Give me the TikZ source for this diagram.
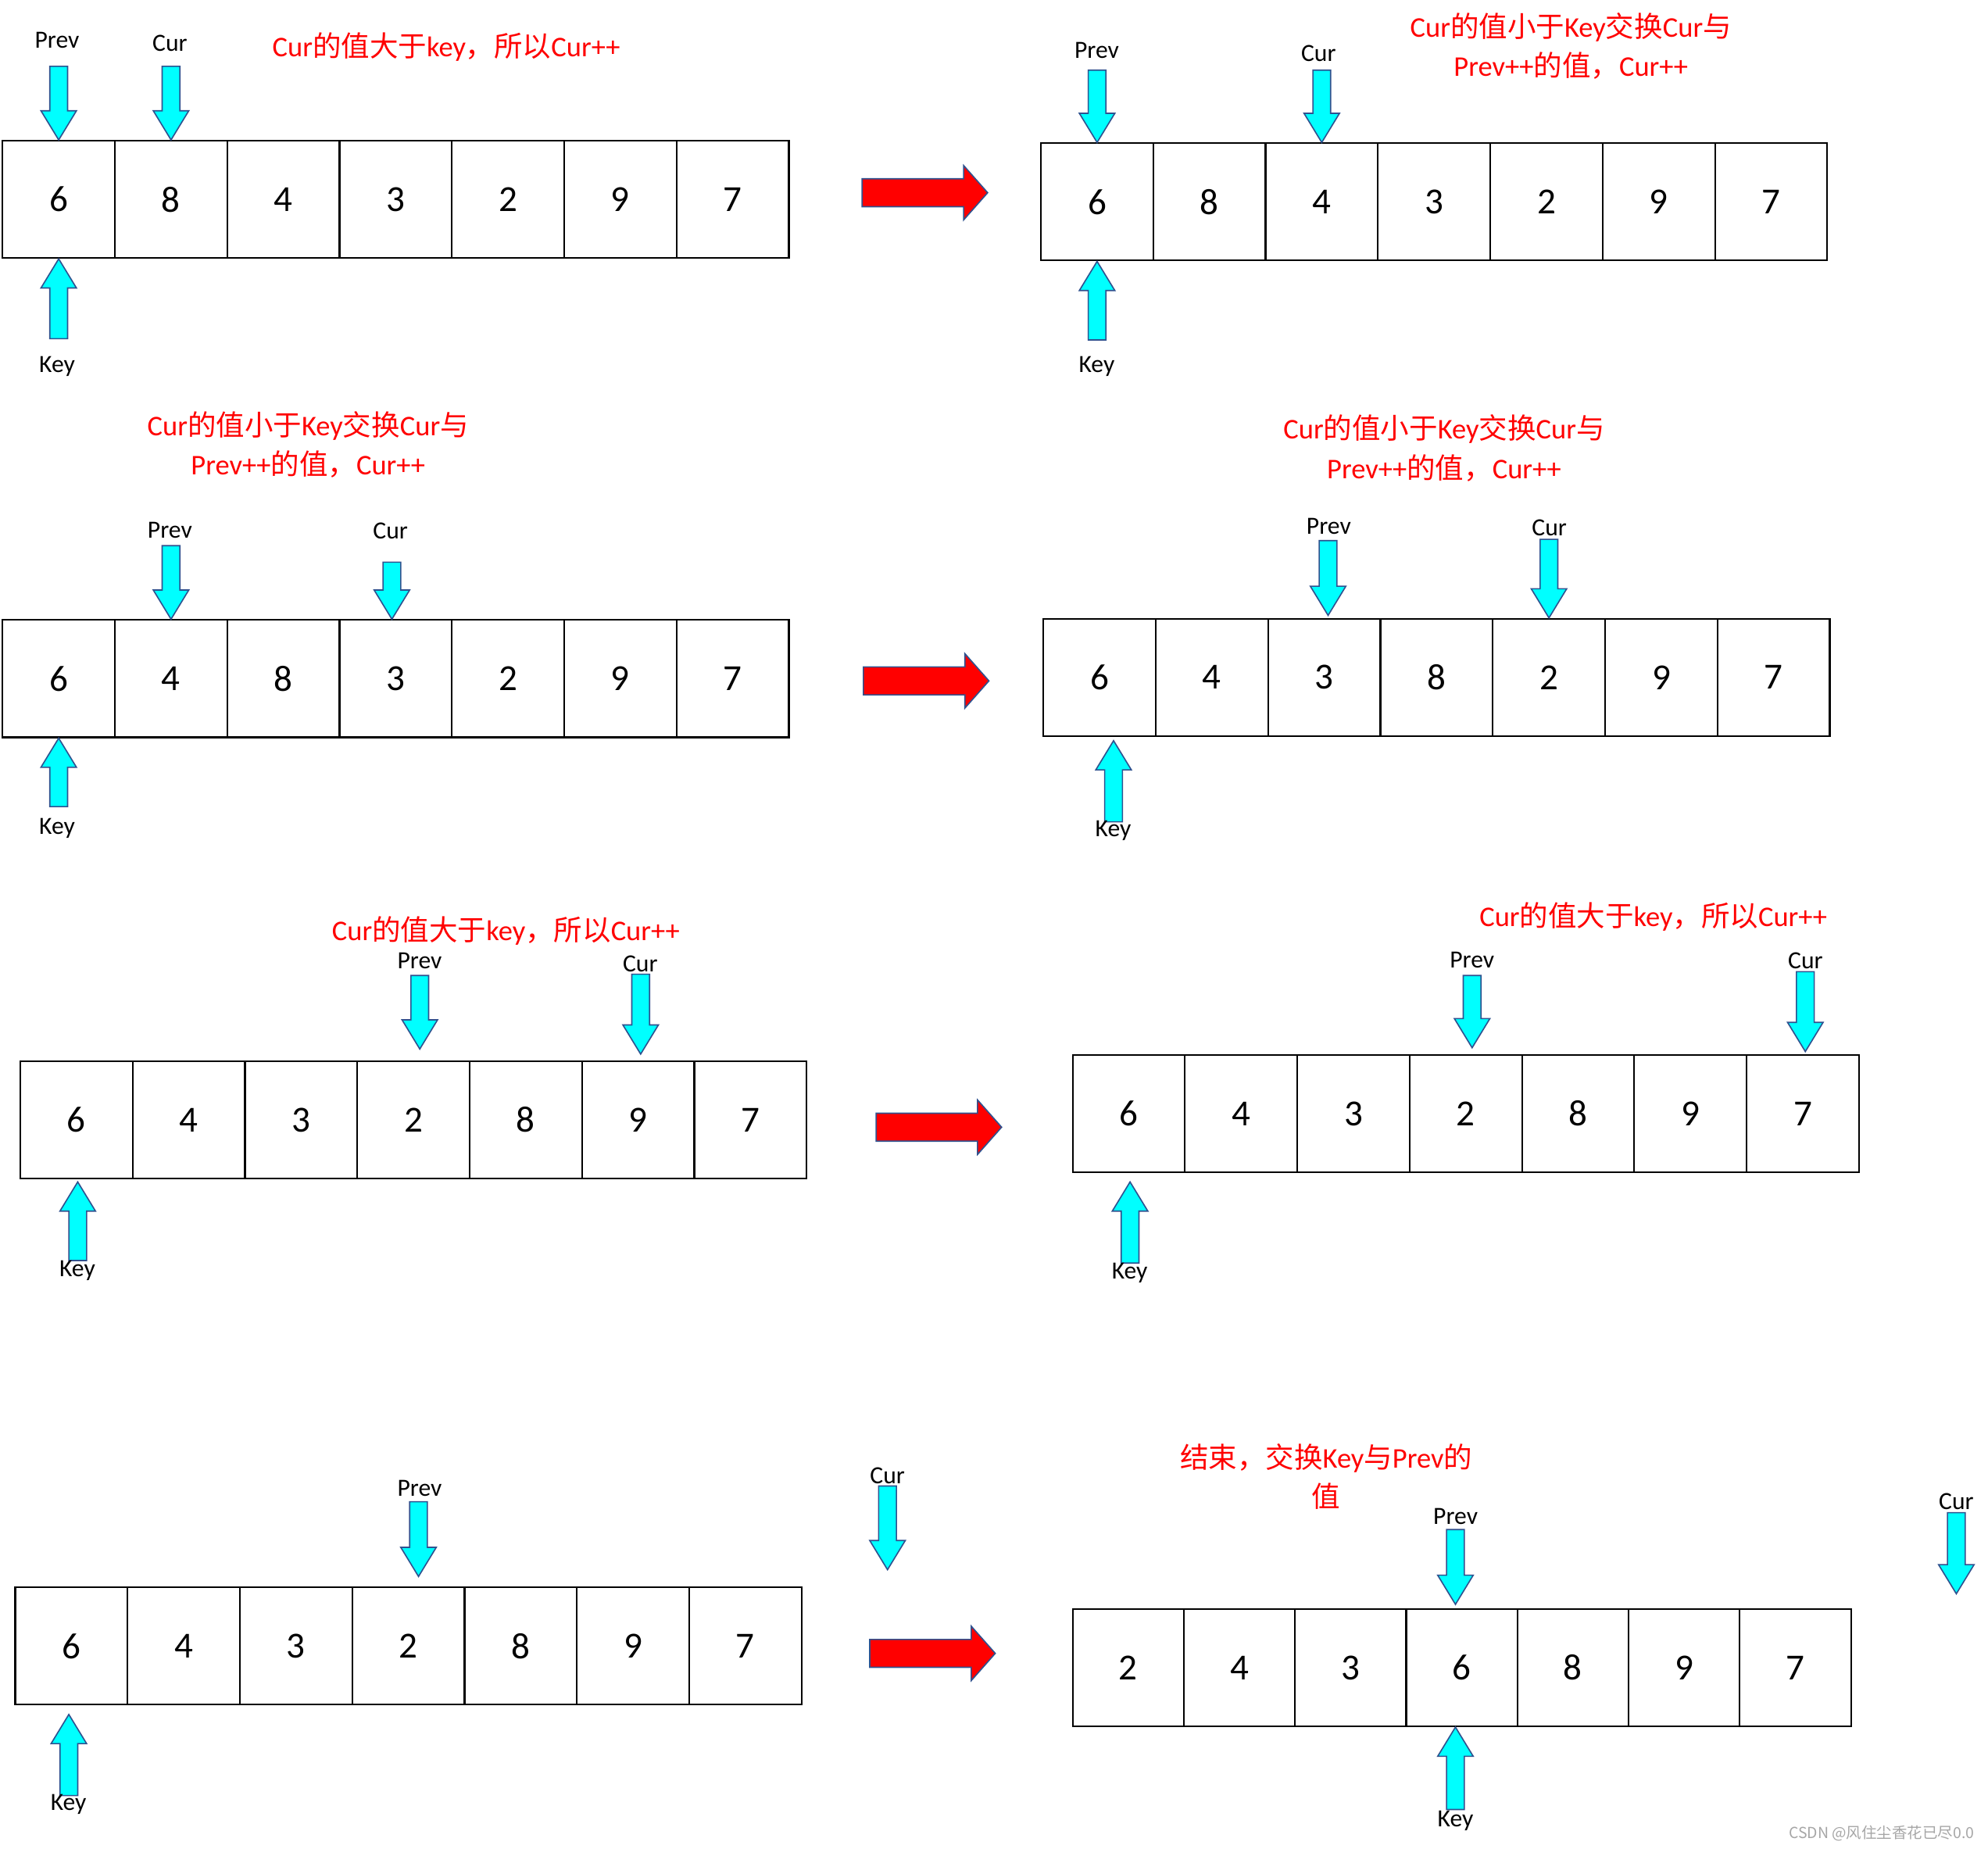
\documentclass[tikz,border=0pt]{standalone}
\usepackage{fontspec}
\setmainfont{Carlito}
\newfontfamily\zhfont{Noto Sans CJK SC}
\usetikzlibrary{calc}
\definecolor{ptrfill}{RGB}{0,255,255}
\definecolor{ptrline}{RGB}{47,82,143}
\newcommand{\zh}[1]{{\zhfont #1}}
% row of cells: name, left, top, cell width, values
\newcommand{\cells}[5]{\foreach \v [count=\i] in {#5}
  \node[cell,minimum width=#4pt] (#1\i) at ({#2+(\i-0.5)*#4},{#3+46.25}) {\v};}
% pointers: tip, length
\newcommand{\dptr}[2]{\draw[ptr] #1 ++(-7,-#2)--++(14,0)--++(0,#2-23)--++(7,0)--++(-14,23)--++(-14,-23)--++(7,0)--cycle;}
\newcommand{\uptr}[2]{\draw[ptr] #1 ++(-7,#2)--++(14,0)--++(0,23-#2)--++(7,0)--++(-14,-23)--++(-14,23)--++(7,0)--cycle;}
\newcommand{\bigarr}[1]{\draw[bigarrow] #1 ++(0,-11)--++(80,0)--++(0,-10.5)--++(19,21.5)--++(-19,21.5)--++(0,-10.5)--++(-80,0)--cycle;}
\begin{document}
\begin{tikzpicture}[x=1pt,y=-1pt,
  cell/.style={draw,line width=1.3pt,minimum height=92.5pt,inner sep=0pt,font=\fontsize{29}{29}\selectfont},
  ptr/.style={fill=ptrfill,draw=ptrline,line width=1pt,line join=miter},
  bigarrow/.style={fill=red,draw=ptrline,line width=1pt},
  lbl/.style={font=\fontsize{19.5}{19.5}\selectfont},
  note/.style={text=red,align=center,font=\fontsize{22.5}{31}\selectfont},
  wmtext/.style={text=gray!70,font=\fontsize{12}{12}\selectfont}]
\useasboundingbox (0,0) rectangle (1568,1458);
\pgfmathsetmacro{\cw}{88.6}
%row 1
\cells{a}{2}{111}{\cw}{6,8,4,3,2,9,7}
\dptr{(a1.north)}{58}
\dptr{(a2.north)}{58}
\uptr{(a1.south)}{63}
\node[lbl] (aprev) at (45,32) {Prev};
\node[lbl] (acur) at (134,34) {Cur};
\node[lbl] (akey) at (45,289) {Key};
\node[note] (anote) at (352,37) {Cur\zh{的值大于}key\zh{，所以}Cur++};
\bigarr{(680,152)}
\cells{b}{821}{113}{\cw}{6,8,4,3,2,9,7}
\dptr{(b1.north)}{57}
\dptr{(b3.north)}{57}
\uptr{(b1.south)}{62}
\node[lbl] (bprev) at (865,40) {Prev};
\node[lbl] (bcur) at (1040,42) {Cur};
\node[lbl] (bkey) at (865,289) {Key};
\node[note] (bnote) at (1239,36.5) {Cur\zh{的值小于}Key\zh{交换}Cur\zh{与}\\Prev++\zh{的值，}Cur++};
%row 2
\cells{c}{2}{489}{\cw}{6,4,8,3,2,9,7}
\dptr{(c2.north)}{58}
\dptr{($(c4.north)+(-3,0)$)}{45}
\uptr{(c1.south)}{54}
\node[lbl] (cprev) at (134,418) {Prev};
\node[lbl] (ccur) at (308,419) {Cur};
\node[lbl] (ckey) at (45,653) {Key};
\node[note] (cnote) at (243,350.5) {Cur\zh{的值小于}Key\zh{交换}Cur\zh{与}\\Prev++\zh{的值，}Cur++};
\bigarr{(681,537)}
\cells{d}{823}{488}{\cw}{6,4,3,8,2,9,7}
\dptr{($(d3.north)+(3,-2)$)}{59}
\dptr{(d5.north)}{62}
\uptr{($(d1.south)+(11,3)$)}{64}
\node[lbl] (dprev) at (1048,415) {Prev};
\node[lbl] (dcur) at (1222,416) {Cur};
\node[lbl] (dkey) at (878,655) {Key};
\node[note] (dnote) at (1139,353.5) {Cur\zh{的值小于}Key\zh{交换}Cur\zh{与}\\Prev++\zh{的值，}Cur++};
%row 3
\cells{e}{16}{837}{\cw}{6,4,3,2,8,9,7}
\dptr{($(e4.north)+(5,-9)$)}{58}
\dptr{($(e6.north)+(2,-5)$)}{63}
\uptr{($(e1.south)+(1,2)$)}{62}
\node[lbl] (eprev) at (331,758) {Prev};
\node[lbl] (ecur) at (505,760) {Cur};
\node[lbl] (ekey) at (61,1002) {Key};
\node[note] (enote) at (399,734) {Cur\zh{的值大于}key\zh{，所以}Cur++};
\bigarr{(691,889)}
\cells{f}{846}{832}{\cw}{6,4,3,2,8,9,7}
\dptr{($(f4.north)+(5,-5)$)}{57}
\dptr{($(f7.north)+(2,-2)$)}{63}
\uptr{($(f1.south)+(1,7)$)}{64}
\node[lbl] (fprev) at (1161,757) {Prev};
\node[lbl] (fcur) at (1424,758) {Cur};
\node[lbl] (fkey) at (891,1004) {Key};
\node[note] (fnote) at (1304,723) {Cur\zh{的值大于}key\zh{，所以}Cur++};
%row 4
\cells{g}{12}{1252}{\cw}{6,4,3,2,8,9,7}
\coordinate (gcur) at (700,1238);
\dptr{($(g4.north)+(8,-8)$)}{59}
\dptr{(gcur)}{66}
\uptr{($(g1.south)+(-2,7)$)}{64}
\node[lbl] (gprev) at (331,1174) {Prev};
\node[lbl] (gcurl) at (700,1164) {Cur};
\node[lbl] (gkey) at (54,1423) {Key};
\bigarr{(686,1304)}
\cells{h}{846}{1269}{87.7}{2,4,3,6,8,9,7}
\coordinate (hcur) at (1543,1257);
\dptr{($(h4.north)+(-5,-3)$)}{59}
\dptr{(hcur)}{64}
\uptr{($(h4.south)+(-5,0)$)}{65}
\node[lbl] (hprev) at (1148,1196) {Prev};
\node[lbl] (hcurl) at (1543,1184) {Cur};
\node[lbl] (hkey) at (1148,1436) {Key};
\node[note] (hnote) at (1046,1164.5) {\zh{结束，交换}Key\zh{与}Prev\zh{的}\\\zh{值}};
\node[wmtext] (wm) at (1484,1446) {\zh{CSDN @风住尘香花已尽0.0}};
\end{tikzpicture}
\end{document}
